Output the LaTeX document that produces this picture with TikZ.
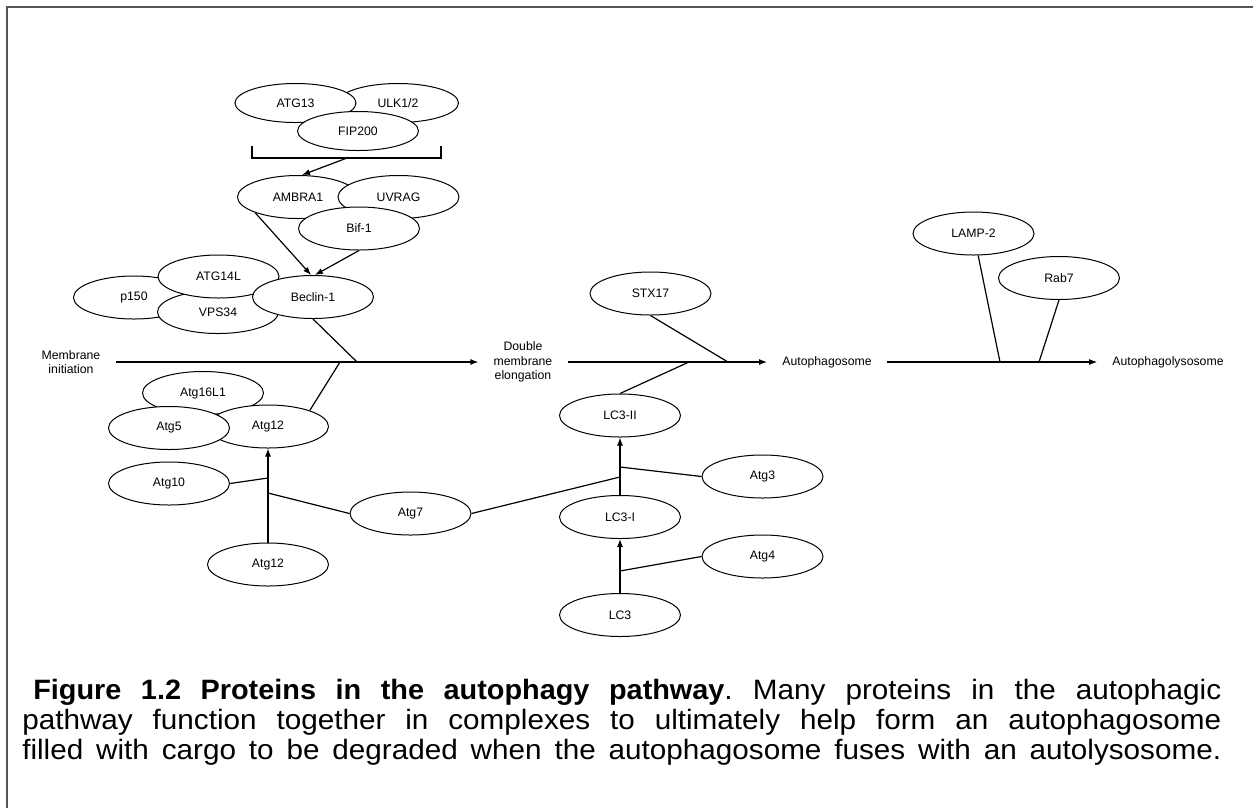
\documentclass[tikz,border=0pt]{standalone}
\usepackage{fontspec}
\setmainfont{Liberation Sans}
\newfontfamily\capr[FakeStretch=1.06]{Liberation Sans}
\newfontfamily\capb[FakeStretch=1.03]{Liberation Sans}
\usetikzlibrary{shapes.geometric,arrows.meta}
\definecolor{bordergray}{RGB}{85,85,85}
\frenchspacing
\begin{document}
\begin{tikzpicture}[x=0.75pt,y=-0.75pt,
  prot/.style={ellipse,draw,fill=white,line width=0.75pt,minimum width=90.75pt,minimum height=32.25pt,inner sep=0pt,font=\fontsize{9.2}{11}\selectfont},
  protsm/.style={prot,minimum height=29.25pt},
  stage/.style={align=center,inner xsep=11.25pt,inner ysep=0pt,font=\fontsize{9.2}{10.9}\selectfont},
  link/.style={line width=0.9pt},
  arr/.style={line width=0.9pt,-{Latex[length=6pt,width=4.5pt]}},
  capline/.style={anchor=base west,inner sep=0pt,font=\fontsize{21}{25}\selectfont}]
\useasboundingbox (0,0) rectangle (1253,808);
% frame (top and left only)
\draw[bordergray,line width=1.5pt] (6.7,808) -- (6.7,6.7) -- (1253,6.7);

% ULK complex
\node[protsm] (ulk) at (398,103) {ULK1/2};
\node[protsm] (atg13) at (295.5,103) {ATG13};
\node[protsm] (fip) at (358,131) {FIP200};
\coordinate (brkL) at (252,146);
\coordinate (brkR) at (441,146);
\coordinate (brk) at (347,158);
\draw[line width=0.9pt] (brkL) -- (brkL |- brk) -- (brkR |- brk) -- (brkR);

% AMBRA1 / UVRAG / Bif-1
\node[prot] (amb) at (298,197) {AMBRA1};
\node[prot] (uvr) at (398.5,197) {UVRAG};
\node[prot] (bif) at (359,228.5) {Bif-1};
\draw[arr] (brk) -- ([xshift=3pt]amb.north);

% Beclin complex
\node[prot] (p150) at (134,297.5) {p150};
\node[prot] (vps) at (218,312) {VPS34};
\node[prot] (atg14) at (218.5,276.5) {ATG14L};
\node[prot] (bec) at (313,297) {Beclin-1};
\draw[arr] (amb.200) -- (bec.95);
\draw[arr] (bif.south) -- (bec.85);

% stages
\node[stage] (mi) at (71,362) {Membrane\\initiation};
\node[stage] (dme) at (523,362) {Double\\membrane\\elongation};
\node[stage] (apg) at (827,362) {Autophagosome};
\node[stage] (apl) at (1168,362) {Autophagolysosome};
\draw[arr] (mi) -- (dme);
\draw[arr] (dme) -- (apg);
\draw[arr] (apg) -- (apl);

\coordinate (J1) at (357,362);
\coordinate (J2) at (340,362);
\coordinate (J3) at (728,362);
\coordinate (J4) at (689,362);
\coordinate (J5) at (1000,362);
\coordinate (J6) at (1039,362);

\draw[link] (bec.south) -- (J1);

% Atg12 conjugation
\node[prot] (a16) at (203,393) {Atg16L1};
\node[prot] (a12t) at (268,426.5) {Atg12};
\node[prot] (a5) at (169,428) {Atg5};
\node[prot] (a10) at (169,483.5) {Atg10};
\node[prot] (a7) at (410.5,513.5) {Atg7};
\node[prot] (a12b) at (268,564.5) {Atg12};
\draw[link] (a12t.21) -- (J2);
\coordinate (K1) at (268,478);
\coordinate (K2) at (268,493);
\draw[arr] (a12b.north) -- (a12t.south);
\draw[link] (a10.east) -- (K1);
\draw[link] (K2) -- (a7.west);

% LC3 processing
\node[prot] (stx) at (650.5,293.5) {STX17};
\node[prot] (lc3ii) at (620,415.5) {LC3-II};
\node[prot] (atg3) at (762.5,476.5) {Atg3};
\node[prot] (lc3i) at (620,517) {LC3-I};
\node[prot] (atg4) at (762.5,556.5) {Atg4};
\node[prot] (lc3) at (620,615) {LC3};
\draw[link] (stx.south) -- (J3);
\draw[link] (lc3ii.north) -- (J4);
\coordinate (K3) at (620,477);
\coordinate (K4) at (620,467);
\coordinate (K5) at (620,571);
\draw[arr] (lc3i.north) -- (lc3ii.south);
\draw[arr] (lc3.north) -- (lc3i.south);
\draw[link] (a7.east) -- (K3);
\draw[link] (K4) -- (atg3.west);
\draw[link] (K5) -- (atg4.west);

% lysosome fusion
\node[prot] (lamp) at (973.5,233.5) {LAMP-2};
\node[prot] (rab) at (1059,278) {Rab7};
\draw[link] (lamp.-78) -- (J5);
\draw[link] (rab.south) -- (J6);

% caption
\node[capline] (cap1) at (33,699) {\frenchspacing\makebox[891pt][s]{{\capb\bfseries Figure 1.2 Proteins in the autophagy pathway}{\capr. Many proteins in the autophagic}}};
\node[capline] (cap2) at (22,729) {\makebox[899.25pt][s]{\capr pathway function together in complexes to ultimately help form an autophagosome}};
\node[capline] (cap3) at (22,759) {\frenchspacing\makebox[899.25pt][s]{\capr filled with cargo to be degraded when the autophagosome fuses with an autolysosome.}};
\end{tikzpicture}
\end{document}
